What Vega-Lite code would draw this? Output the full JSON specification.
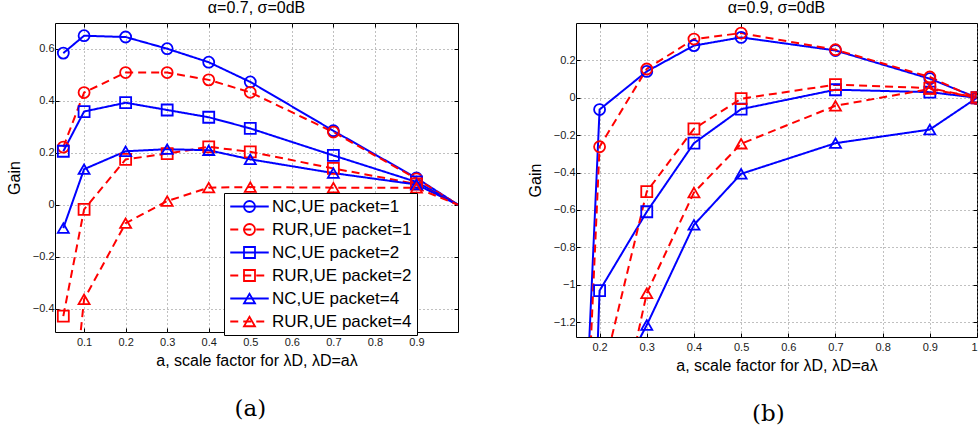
{
  "$schema": "https://vega.github.io/schema/vega-lite/v6.json",
  "background": "white",
  "padding": {"left": 5, "top": -6, "right": 0, "bottom": 0},
  "config": {
    "font": "Liberation Sans",
    "view": {"stroke": "#000", "strokeWidth": 1},
    "axis": {
      "domain": false, "grid": true, "gridColor": "#808080", "gridDash": [1, 3], "gridWidth": 1,
      "tickColor": "#000", "tickSize": -4, "tickWidth": 1,
      "labelFont": "Liberation Sans", "labelFontSize": 11, "labelColor": "#1a1a1a",
      "titleFont": "Liberation Sans", "titleFontSize": 16, "titleFontWeight": "normal", "titleColor": "#000"
    },
    "title": {"font": "Liberation Sans", "fontSize": 16, "fontWeight": "normal", "color": "#000", "subtitleFont": "Liberation Sans", "subtitleFontSize": 16, "subtitleColor": "#000"},
    "legend": {"labelFont": "Liberation Sans"}
  },
  "datasets": {
    "a": [
      {"a": 0.05, "gain": 0.584, "series": "NC,UE packet=1"},
      {"a": 0.1, "gain": 0.651, "series": "NC,UE packet=1"},
      {"a": 0.2, "gain": 0.646, "series": "NC,UE packet=1"},
      {"a": 0.3, "gain": 0.601, "series": "NC,UE packet=1"},
      {"a": 0.4, "gain": 0.549, "series": "NC,UE packet=1"},
      {"a": 0.5, "gain": 0.473, "series": "NC,UE packet=1"},
      {"a": 0.7, "gain": 0.285, "series": "NC,UE packet=1"},
      {"a": 0.9, "gain": 0.103, "series": "NC,UE packet=1"},
      {"a": 1.0, "gain": 0.0, "series": "NC,UE packet=1"},
      {"a": 0.05, "gain": 0.222, "series": "RUR,UE packet=1"},
      {"a": 0.1, "gain": 0.432, "series": "RUR,UE packet=1"},
      {"a": 0.2, "gain": 0.509, "series": "RUR,UE packet=1"},
      {"a": 0.3, "gain": 0.509, "series": "RUR,UE packet=1"},
      {"a": 0.4, "gain": 0.481, "series": "RUR,UE packet=1"},
      {"a": 0.5, "gain": 0.433, "series": "RUR,UE packet=1"},
      {"a": 0.7, "gain": 0.28, "series": "RUR,UE packet=1"},
      {"a": 0.9, "gain": 0.1, "series": "RUR,UE packet=1"},
      {"a": 1.0, "gain": 0.0, "series": "RUR,UE packet=1"},
      {"a": 0.05, "gain": 0.206, "series": "NC,UE packet=2"},
      {"a": 0.1, "gain": 0.359, "series": "NC,UE packet=2"},
      {"a": 0.2, "gain": 0.393, "series": "NC,UE packet=2"},
      {"a": 0.3, "gain": 0.365, "series": "NC,UE packet=2"},
      {"a": 0.4, "gain": 0.337, "series": "NC,UE packet=2"},
      {"a": 0.5, "gain": 0.294, "series": "NC,UE packet=2"},
      {"a": 0.7, "gain": 0.19, "series": "NC,UE packet=2"},
      {"a": 0.9, "gain": 0.088, "series": "NC,UE packet=2"},
      {"a": 1.0, "gain": 0.0, "series": "NC,UE packet=2"},
      {"a": 0.05, "gain": -0.429, "series": "RUR,UE packet=2"},
      {"a": 0.1, "gain": -0.018, "series": "RUR,UE packet=2"},
      {"a": 0.2, "gain": 0.175, "series": "RUR,UE packet=2"},
      {"a": 0.3, "gain": 0.197, "series": "RUR,UE packet=2"},
      {"a": 0.4, "gain": 0.223, "series": "RUR,UE packet=2"},
      {"a": 0.5, "gain": 0.204, "series": "RUR,UE packet=2"},
      {"a": 0.7, "gain": 0.14, "series": "RUR,UE packet=2"},
      {"a": 0.9, "gain": 0.08, "series": "RUR,UE packet=2"},
      {"a": 1.0, "gain": 0.0, "series": "RUR,UE packet=2"},
      {"a": 0.05, "gain": -0.09, "series": "NC,UE packet=4"},
      {"a": 0.1, "gain": 0.137, "series": "NC,UE packet=4"},
      {"a": 0.2, "gain": 0.206, "series": "NC,UE packet=4"},
      {"a": 0.3, "gain": 0.214, "series": "NC,UE packet=4"},
      {"a": 0.4, "gain": 0.21, "series": "NC,UE packet=4"},
      {"a": 0.5, "gain": 0.175, "series": "NC,UE packet=4"},
      {"a": 0.7, "gain": 0.122, "series": "NC,UE packet=4"},
      {"a": 0.9, "gain": 0.078, "series": "NC,UE packet=4"},
      {"a": 1.0, "gain": 0.0, "series": "NC,UE packet=4"},
      {"a": 0.05, "gain": -1.13, "series": "RUR,UE packet=4"},
      {"a": 0.1, "gain": -0.364, "series": "RUR,UE packet=4"},
      {"a": 0.2, "gain": -0.071, "series": "RUR,UE packet=4"},
      {"a": 0.3, "gain": 0.014, "series": "RUR,UE packet=4"},
      {"a": 0.4, "gain": 0.066, "series": "RUR,UE packet=4"},
      {"a": 0.5, "gain": 0.068, "series": "RUR,UE packet=4"},
      {"a": 0.7, "gain": 0.066, "series": "RUR,UE packet=4"},
      {"a": 0.9, "gain": 0.065, "series": "RUR,UE packet=4"},
      {"a": 1.0, "gain": 0.0, "series": "RUR,UE packet=4"}
    ],
    "b": [
      {"a": 0.1, "gain": -5.7, "series": "NC,UE packet=1"},
      {"a": 0.2, "gain": -0.063, "series": "NC,UE packet=1"},
      {"a": 0.3, "gain": 0.141, "series": "NC,UE packet=1"},
      {"a": 0.4, "gain": 0.279, "series": "NC,UE packet=1"},
      {"a": 0.5, "gain": 0.323, "series": "NC,UE packet=1"},
      {"a": 0.7, "gain": 0.253, "series": "NC,UE packet=1"},
      {"a": 0.9, "gain": 0.102, "series": "NC,UE packet=1"},
      {"a": 1.0, "gain": 0.0, "series": "NC,UE packet=1"},
      {"a": 0.1, "gain": -5.9, "series": "RUR,UE packet=1"},
      {"a": 0.2, "gain": -0.262, "series": "RUR,UE packet=1"},
      {"a": 0.3, "gain": 0.154, "series": "RUR,UE packet=1"},
      {"a": 0.4, "gain": 0.314, "series": "RUR,UE packet=1"},
      {"a": 0.5, "gain": 0.346, "series": "RUR,UE packet=1"},
      {"a": 0.7, "gain": 0.257, "series": "RUR,UE packet=1"},
      {"a": 0.9, "gain": 0.111, "series": "RUR,UE packet=1"},
      {"a": 1.0, "gain": -0.005, "series": "RUR,UE packet=1"},
      {"a": 0.1, "gain": -8.1, "series": "NC,UE packet=2"},
      {"a": 0.2, "gain": -1.032, "series": "NC,UE packet=2"},
      {"a": 0.3, "gain": -0.61, "series": "NC,UE packet=2"},
      {"a": 0.4, "gain": -0.243, "series": "NC,UE packet=2"},
      {"a": 0.5, "gain": -0.061, "series": "NC,UE packet=2"},
      {"a": 0.7, "gain": 0.043, "series": "NC,UE packet=2"},
      {"a": 0.9, "gain": 0.03, "series": "NC,UE packet=2"},
      {"a": 1.0, "gain": 0.0, "series": "NC,UE packet=2"},
      {"a": 0.2, "gain": -1.55, "series": "RUR,UE packet=2"},
      {"a": 0.3, "gain": -0.502, "series": "RUR,UE packet=2"},
      {"a": 0.4, "gain": -0.166, "series": "RUR,UE packet=2"},
      {"a": 0.5, "gain": -0.005, "series": "RUR,UE packet=2"},
      {"a": 0.7, "gain": 0.07, "series": "RUR,UE packet=2"},
      {"a": 0.9, "gain": 0.052, "series": "RUR,UE packet=2"},
      {"a": 1.0, "gain": 0.0, "series": "RUR,UE packet=2"},
      {"a": 0.2, "gain": -1.7, "series": "NC,UE packet=4"},
      {"a": 0.3, "gain": -1.216, "series": "NC,UE packet=4"},
      {"a": 0.4, "gain": -0.68, "series": "NC,UE packet=4"},
      {"a": 0.5, "gain": -0.407, "series": "NC,UE packet=4"},
      {"a": 0.7, "gain": -0.243, "series": "NC,UE packet=4"},
      {"a": 0.9, "gain": -0.17, "series": "NC,UE packet=4"},
      {"a": 1.0, "gain": 0.0, "series": "NC,UE packet=4"},
      {"a": 0.2, "gain": -2.2, "series": "RUR,UE packet=4"},
      {"a": 0.3, "gain": -1.046, "series": "RUR,UE packet=4"},
      {"a": 0.4, "gain": -0.507, "series": "RUR,UE packet=4"},
      {"a": 0.5, "gain": -0.246, "series": "RUR,UE packet=4"},
      {"a": 0.7, "gain": -0.043, "series": "RUR,UE packet=4"},
      {"a": 0.9, "gain": 0.047, "series": "RUR,UE packet=4"},
      {"a": 1.0, "gain": 0.0, "series": "RUR,UE packet=4"}
    ]
  },
  "spacing": 67,
  "hconcat": [
    {
      "title": {"text": "(a)", "orient": "bottom", "anchor": "middle", "dx": 18, "font": "DejaVu Serif", "fontSize": 23, "fontWeight": "normal", "offset": 29},
      "vconcat": [
        {
          "width": 403, "height": 309,
          "title": {"text": " ", "fontSize": 1, "subtitle": "α=0.7, σ=0dB", "subtitlePadding": 4, "offset": 7},
          "data": {"name": "a"},
          "resolve": {"axis": {"x": "independent", "y": "independent"}},
          "layer": [
            {
              "mark": {"type": "line", "clip": true, "strokeWidth": 2},
              "encoding": {
                "x": {"field": "a", "type": "quantitative", "scale": {"domain": [0.03, 1], "nice": false, "zero": false},
                      "axis": {"orient": "bottom", "values": [0.1, 0.2, 0.3, 0.4, 0.5, 0.6, 0.7, 0.8, 0.9], "format": "~g", "title": "a, scale factor for λD, λD=aλ", "labelPadding": 8, "titlePadding": 5}},
                "y": {"field": "gain", "type": "quantitative", "scale": {"domain": [-0.49, 0.7], "nice": false, "zero": false},
                      "axis": {"orient": "left", "values": [-0.4, -0.2, 0, 0.2, 0.4, 0.6], "format": "~g", "title": "Gain", "labelPadding": 5, "titlePadding": 10}},
                "color": {"field": "series", "type": "nominal",
                          "scale": {"domain": ["NC,UE packet=1", "RUR,UE packet=1", "NC,UE packet=2", "RUR,UE packet=2", "NC,UE packet=4", "RUR,UE packet=4", "-"], "range": ["#0000ff", "#ff0000", "#0000ff", "#ff0000", "#0000ff", "#ff0000", "#000000"]},
                          "legend": {"values": ["NC,UE packet=1", "RUR,UE packet=1", "NC,UE packet=2", "RUR,UE packet=2", "NC,UE packet=4", "RUR,UE packet=4"], "orient": "none", "legendX": 169, "legendY": 170, "title": null, "symbolType": "M-3.5,0H3.5", "symbolSize": 121, "symbolStrokeWidth": 2, "labelFontSize": 17, "labelColor": "#000", "labelLimit": 0, "rowPadding": 5, "padding": 5, "clipHeight": 17, "strokeColor": "#000", "fillColor": "#fff", "cornerRadius": 0, "symbolOffset": 12, "labelOffset": 14, "zindex": 1}},
                "strokeDash": {"field": "series", "type": "nominal",
                          "scale": {"domain": ["NC,UE packet=1", "RUR,UE packet=1", "NC,UE packet=2", "RUR,UE packet=2", "NC,UE packet=4", "RUR,UE packet=4", "-"], "range": [[1, 0], [8, 5], [1, 0], [8, 5], [1, 0], [8, 5], [1, 0]]},
                          "legend": {"values": ["NC,UE packet=1", "RUR,UE packet=1", "NC,UE packet=2", "RUR,UE packet=2", "NC,UE packet=4", "RUR,UE packet=4"], "orient": "none", "legendX": 169, "legendY": 170, "title": null, "symbolType": "M-3.5,0H3.5", "symbolSize": 121, "symbolStrokeWidth": 2, "labelFontSize": 17, "labelColor": "#000", "labelLimit": 0, "rowPadding": 5, "padding": 5, "clipHeight": 17, "strokeColor": "#000", "fillColor": "#fff", "cornerRadius": 0, "symbolOffset": 12, "labelOffset": 14, "zindex": 1}}
              }
            },
            {
              "transform": [{"filter": "datum.a < 1"}],
              "mark": {"type": "point", "clip": true, "filled": false, "size": 121, "strokeWidth": 1.8, "opacity": 1},
              "encoding": {
                "x": {"field": "a", "type": "quantitative", "scale": {"domain": [0.03, 1], "nice": false, "zero": false},
                      "axis": {"orient": "top", "values": [0.1, 0.2, 0.3, 0.4, 0.5, 0.6, 0.7, 0.8, 0.9], "labels": false, "grid": false, "title": null}},
                "y": {"field": "gain", "type": "quantitative", "scale": {"domain": [-0.49, 0.7], "nice": false, "zero": false},
                      "axis": {"orient": "right", "values": [-0.4, -0.2, 0, 0.2, 0.4, 0.6], "labels": false, "grid": false, "title": null}},
                "stroke": {"field": "series", "type": "nominal",
                          "scale": {"domain": ["NC,UE packet=1", "RUR,UE packet=1", "NC,UE packet=2", "RUR,UE packet=2", "NC,UE packet=4", "RUR,UE packet=4"], "range": ["#0000ff", "#ff0000", "#0000ff", "#ff0000", "#0000ff", "#ff0000"]},
                          "legend": {"orient": "none", "legendX": 169, "legendY": 170, "title": null, "symbolSize": 121, "symbolStrokeWidth": 1.8, "symbolFillColor": "transparent", "labelFontSize": 17, "labelOpacity": 0, "labelLimit": 0, "rowPadding": 5, "padding": 5, "clipHeight": 17, "symbolOffset": 12, "labelOffset": 14, "zindex": 2}},
                "shape": {"field": "series", "type": "nominal",
                          "scale": {"domain": ["NC,UE packet=1", "RUR,UE packet=1", "NC,UE packet=2", "RUR,UE packet=2", "NC,UE packet=4", "RUR,UE packet=4"], "range": ["circle", "circle", "square", "square", "triangle-up", "triangle-up"]},
                          "legend": {"orient": "none", "legendX": 169, "legendY": 170, "title": null, "symbolSize": 121, "symbolStrokeWidth": 1.8, "symbolFillColor": "transparent", "labelFontSize": 17, "labelOpacity": 0, "labelLimit": 0, "rowPadding": 5, "padding": 5, "clipHeight": 17, "symbolOffset": 12, "labelOffset": 14, "zindex": 2}}
              }
            }
          ]
        }
      ]
    },
    {
      "title": {"text": "(b)", "orient": "bottom", "anchor": "middle", "dx": 16, "font": "DejaVu Serif", "fontSize": 23, "fontWeight": "normal", "offset": 29},
      "vconcat": [
        {
          "width": 401, "height": 314,
          "title": {"text": "α=0.9, σ=0dB", "offset": 7},
          "data": {"name": "b"},
          "resolve": {"axis": {"x": "independent", "y": "independent"}},
          "layer": [
            {
              "mark": {"type": "line", "clip": true, "strokeWidth": 2},
              "encoding": {
                "x": {"field": "a", "type": "quantitative", "scale": {"domain": [0.15, 1], "nice": false, "zero": false},
                      "axis": {"orient": "bottom", "values": [0.2, 0.3, 0.4, 0.5, 0.6, 0.7, 0.8, 0.9, 1], "format": "~g", "title": "a, scale factor for λD, λD=aλ", "labelPadding": 8, "titlePadding": 5}},
                "y": {"field": "gain", "type": "quantitative", "scale": {"domain": [-1.28, 0.4], "nice": false, "zero": false},
                      "axis": {"orient": "left", "values": [-1.2, -1, -0.8, -0.6, -0.4, -0.2, 0, 0.2], "format": "~g", "title": "Gain", "labelPadding": 5, "titlePadding": 10}},
                "color": {"field": "series", "type": "nominal",
                          "scale": {"domain": ["NC,UE packet=1", "RUR,UE packet=1", "NC,UE packet=2", "RUR,UE packet=2", "NC,UE packet=4", "RUR,UE packet=4", "-"], "range": ["#0000ff", "#ff0000", "#0000ff", "#ff0000", "#0000ff", "#ff0000", "#000000"]},
                          "legend": {"values": ["NC,UE packet=1", "RUR,UE packet=1", "NC,UE packet=2", "RUR,UE packet=2", "NC,UE packet=4", "RUR,UE packet=4"], "orient": "none", "legendX": 202, "legendY": 169, "title": null, "symbolType": "M-3.5,0H3.5", "symbolSize": 121, "symbolStrokeWidth": 2, "labelFontSize": 17, "labelColor": "#000", "labelLimit": 0, "rowPadding": 5, "padding": 5, "clipHeight": 17, "strokeColor": "#000", "fillColor": "#fff", "cornerRadius": 0, "symbolOffset": 12, "labelOffset": 14, "zindex": 1}},
                "strokeDash": {"field": "series", "type": "nominal",
                          "scale": {"domain": ["NC,UE packet=1", "RUR,UE packet=1", "NC,UE packet=2", "RUR,UE packet=2", "NC,UE packet=4", "RUR,UE packet=4", "-"], "range": [[1, 0], [8, 5], [1, 0], [8, 5], [1, 0], [8, 5], [1, 0]]},
                          "legend": {"values": ["NC,UE packet=1", "RUR,UE packet=1", "NC,UE packet=2", "RUR,UE packet=2", "NC,UE packet=4", "RUR,UE packet=4"], "orient": "none", "legendX": 202, "legendY": 169, "title": null, "symbolType": "M-3.5,0H3.5", "symbolSize": 121, "symbolStrokeWidth": 2, "labelFontSize": 17, "labelColor": "#000", "labelLimit": 0, "rowPadding": 5, "padding": 5, "clipHeight": 17, "strokeColor": "#000", "fillColor": "#fff", "cornerRadius": 0, "symbolOffset": 12, "labelOffset": 14, "zindex": 1}}
              }
            },
            {
              "mark": {"type": "point", "clip": true, "filled": false, "size": 121, "strokeWidth": 1.8, "opacity": 1},
              "encoding": {
                "x": {"field": "a", "type": "quantitative", "scale": {"domain": [0.15, 1], "nice": false, "zero": false},
                      "axis": {"orient": "top", "values": [0.2, 0.3, 0.4, 0.5, 0.6, 0.7, 0.8, 0.9, 1], "labels": false, "grid": false, "title": null}},
                "y": {"field": "gain", "type": "quantitative", "scale": {"domain": [-1.28, 0.4], "nice": false, "zero": false},
                      "axis": {"orient": "right", "values": [-1.2, -1, -0.8, -0.6, -0.4, -0.2, 0, 0.2], "labels": false, "grid": false, "title": null}},
                "stroke": {"field": "series", "type": "nominal",
                          "scale": {"domain": ["NC,UE packet=1", "RUR,UE packet=1", "NC,UE packet=2", "RUR,UE packet=2", "NC,UE packet=4", "RUR,UE packet=4"], "range": ["#0000ff", "#ff0000", "#0000ff", "#ff0000", "#0000ff", "#ff0000"]},
                          "legend": {"orient": "none", "legendX": 202, "legendY": 169, "title": null, "symbolSize": 121, "symbolStrokeWidth": 1.8, "symbolFillColor": "transparent", "labelFontSize": 17, "labelOpacity": 0, "labelLimit": 0, "rowPadding": 5, "padding": 5, "clipHeight": 17, "symbolOffset": 12, "labelOffset": 14, "zindex": 2}},
                "shape": {"field": "series", "type": "nominal",
                          "scale": {"domain": ["NC,UE packet=1", "RUR,UE packet=1", "NC,UE packet=2", "RUR,UE packet=2", "NC,UE packet=4", "RUR,UE packet=4"], "range": ["circle", "circle", "square", "square", "triangle-up", "triangle-up"]},
                          "legend": {"orient": "none", "legendX": 202, "legendY": 169, "title": null, "symbolSize": 121, "symbolStrokeWidth": 1.8, "symbolFillColor": "transparent", "labelFontSize": 17, "labelOpacity": 0, "labelLimit": 0, "rowPadding": 5, "padding": 5, "clipHeight": 17, "symbolOffset": 12, "labelOffset": 14, "zindex": 2}}
              }
            }
          ]
        }
      ]
    }
  ]
}
